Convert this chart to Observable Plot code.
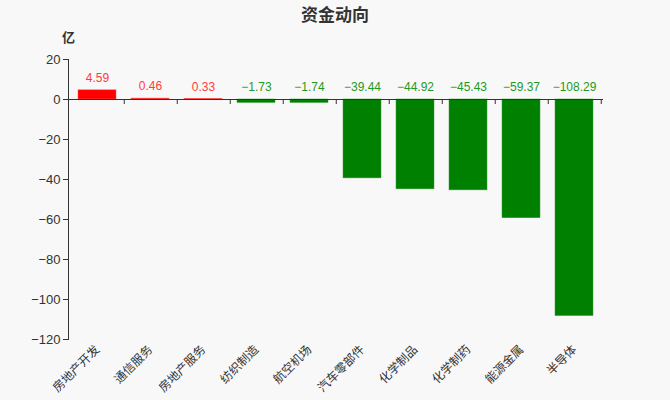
<!DOCTYPE html>
<html>
<head>
<meta charset="utf-8">
<script src="https://cdn.jsdelivr.net/npm/d3@7"></script>
<script src="https://cdn.jsdelivr.net/npm/@observablehq/plot@0.6"></script>
<style>
  html, body { margin: 0; padding: 0; background: #f8f8f8; }
  body { width: 670px; height: 400px; overflow: hidden; font-family: "Liberation Sans", "Noto Sans CJK SC", sans-serif; }
  #title { height: 28px; line-height: 28px; text-align: center; font-size: 17px; font-weight: bold; color: #333; font-family: "Noto Sans CJK SC", sans-serif; }
</style>
</head>
<body>
<div id="title">资金动向</div>
<div id="chart"></div>
<script>
const categories = ["房地产开发", "通信服务", "房地产服务", "纺织制造", "航空机场", "汽车零部件", "化学制品", "化学制药", "能源金属", "半导体"];
const values = [4.59, 0.46, 0.33, -1.73, -1.74, -39.44, -44.92, -45.43, -59.37, -108.29];
const yTicks = [20, 0, -20, -40, -60, -80, -100, -120];
const unitLabel = "亿";

const data = categories.map((c, i) => ({name: c, value: values[i]}));
const fmt = v => (v < 0 ? "\u2212" : "") + Math.abs(v).toFixed(2);

const chart = Plot.plot({
  width: 670,
  height: 372,
  marginTop: 31,
  marginBottom: 61,
  marginLeft: 68,
  marginRight: 67,
  style: {background: "transparent", fontFamily: "'Liberation Sans', 'Noto Sans CJK SC', sans-serif", fontSize: "12px", color: "#333", overflow: "visible"},
  x: {domain: categories, paddingInner: 0.29, paddingOuter: 0.145, label: null},
  y: {domain: [-120, 20], label: null},
  marks: [
    Plot.barY(data, {x: "name", y: "value", fill: d => d.value >= 0 ? "#ff0000" : "#008000", stroke: d => d.value >= 0 ? "#ff5555" : "#3a9a3a", strokeWidth: 0.5}),
    Plot.ruleY([0], {stroke: "#333", strokeWidth: 1}),
    Plot.ruleX(data, {x: "name", y1: 0, y2: -2.5, dx: 26.75, stroke: "#333"}),
    Plot.frame({anchor: "left", stroke: "#333"}),
    Plot.axisY({ticks: yTicks, tickSize: 5, tickPadding: 3, fontSize: 13, tickFormat: d => (d < 0 ? "\u2212" : "") + Math.abs(d), color: "#333"}),
    Plot.axisX({anchor: "bottom", tickSize: 0, tickRotate: -45, tickPadding: 8, fontSize: 12, fontFamily: "'Noto Sans CJK SC', sans-serif"}),
    Plot.text(data, {x: "name", y: d => Math.max(d.value, 0), text: d => fmt(d.value), dy: -12, fontSize: 12, fill: d => d.value >= 0 ? "#ff3b3b" : "#1f991f"}),
    Plot.text([unitLabel], {frameAnchor: "top-left", textAnchor: "middle", lineAnchor: "middle", dy: -22, dx: 0, fontSize: 13, fontWeight: "bold", fill: "#333", fontFamily: "'Noto Sans CJK SC', sans-serif"})
  ]
});
document.getElementById("chart").appendChild(chart);
</script>
</body>
</html>
